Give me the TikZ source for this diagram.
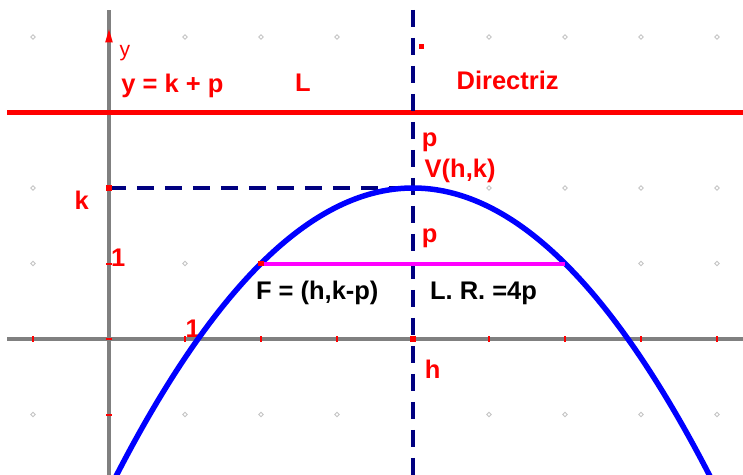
\documentclass[tikz,border=0pt]{standalone}
\usepackage{fontspec}
\setmainfont{Liberation Sans}
\usetikzlibrary{shapes.geometric}
\definecolor{axisgray}{HTML}{808080}
\definecolor{dirred}{HTML}{FF0000}
\definecolor{curveblue}{HTML}{0000FF}
\definecolor{guide}{HTML}{000080}
\definecolor{lrmag}{HTML}{FF00FF}
\definecolor{dotgray}{HTML}{C4C4C4}

\begin{document}
\begin{tikzpicture}[
    x=1.52cm,y=1.51cm,
    lbl/.style={inner sep=0pt,font=\fontsize{14.5}{16}\selectfont\bfseries,text=dirred},
    blk/.style={lbl,text=black},
    ylbl/.style={inner sep=0pt,font=\fontsize{12}{14}\selectfont,text=dirred},
    axisline/.style={draw=axisgray,line width=0.09cm},
    dirline/.style={draw=dirred,line width=0.1cm},
    guideline/.style={draw=guide,line width=0.09cm,dash pattern=on 0.34cm off 0.22cm},
    curve/.style={draw=curveblue,line width=0.11cm},
    lrline/.style={draw=lrmag,line width=0.08cm},
    tickmark/.style={draw=dirred,line width=0.04cm},
    pt/.style={fill=dirred,inner sep=0pt,minimum size=0.11cm},
    gdot/.style={diamond,draw=dotgray,line width=0.5pt,inner sep=0pt,minimum size=0.1cm}
  ]
    \useasboundingbox (-1.434,-1.788) rectangle (8.342,4.490);
    \clip (-1.434,-1.788) rectangle (8.342,4.490);

    \foreach \gx in {-1,1,2,3,5,6,7,8} {
      \node[gdot] at (\gx,4) {};
      \node[gdot] at (\gx,-1) {};
    }
    \foreach \gx/\gy in {-1/2,5/2,6/2,7/2,8/2,-1/1,1/1,7/1,8/1}
      \node[gdot] at (\gx,\gy) {};

    \coordinate (O) at (0,0);
    \coordinate (xl) at (-1.34,0);
    \coordinate (xr) at (8.4,0);
    \coordinate (yt) at (0,4.36);
    \coordinate (yb) at (0,-1.85);
    \coordinate (dl) at (-1.34,3);
    \coordinate (dr) at (8.4,3);
    \coordinate (K) at (0,2);
    \coordinate (V) at (4,2);
    \coordinate (H) at (4,0);
    \coordinate (vt) at (4,4.36);
    \coordinate (vb) at (4,-1.85);
    \coordinate (F1) at (2,1);
    \coordinate (F2) at (6,1);

    \node[lbl] (onex) at (1.10,0.13) {1};

    \draw[axisline] (xl) -- (xr);
    \draw[axisline] (yb) -- (yt);
    \foreach \tx in {-1,1,2,3,5,6,7,8}
      \draw[tickmark] (\tx,-0.035) -- (\tx,0.035);
    \foreach \ty in {-1,0,1}
      \draw[tickmark] (-0.035,\ty) -- (0.035,\ty);
    \fill[dirred] (0,4.10) -- (-0.05,3.93) -- (0.05,3.93) -- cycle;

    \draw[dirline] (dl) -- (dr);
    \draw[guideline] (K) -- (V);
    \draw[guideline] (vt) -- (vb);
    \draw[curve] plot[domain=0:8,samples=90,smooth] (\x,{2-(\x-4)^2/4});
    \draw[lrline] (F1) -- (F2);

    \node[pt] (kpt) at (K) {};
    \node[pt] (hpt) at (H) {};
    \node[pt] (fpt) at (F1) {};
    \node[pt,minimum size=0.1cm] (toppt) at (4.11,3.87) {};

    \node[ylbl] (ylab) at (0.21,3.79) {y};
    \node[lbl,anchor=west] (eqdir) at (0.16,3.35) {y = k + p};
    \node[lbl] (Lname) at (2.55,3.39) {L};
    \node[lbl,anchor=west] (dirname) at (4.57,3.43) {Directriz};
    \node[lbl] (pup) at (4.22,2.61) {p};
    \node[lbl,anchor=west] (vlab) at (4.15,2.23) {V(h,k)};
    \node[lbl] (klab) at (-0.36,1.84) {k};
    \node[lbl] (oney) at (0.12,1.07) {1};
    \node[lbl] (plow) at (4.22,1.34) {p};
    \node[lbl] (hlab) at (4.26,-0.40) {h};
    \node[blk,anchor=west] (flab) at (1.93,0.61) {F = (h,k-p)};
    \node[blk,anchor=west] (lrlab) at (4.22,0.61) {L. R. =4p};
  \end{tikzpicture}
\end{document}
